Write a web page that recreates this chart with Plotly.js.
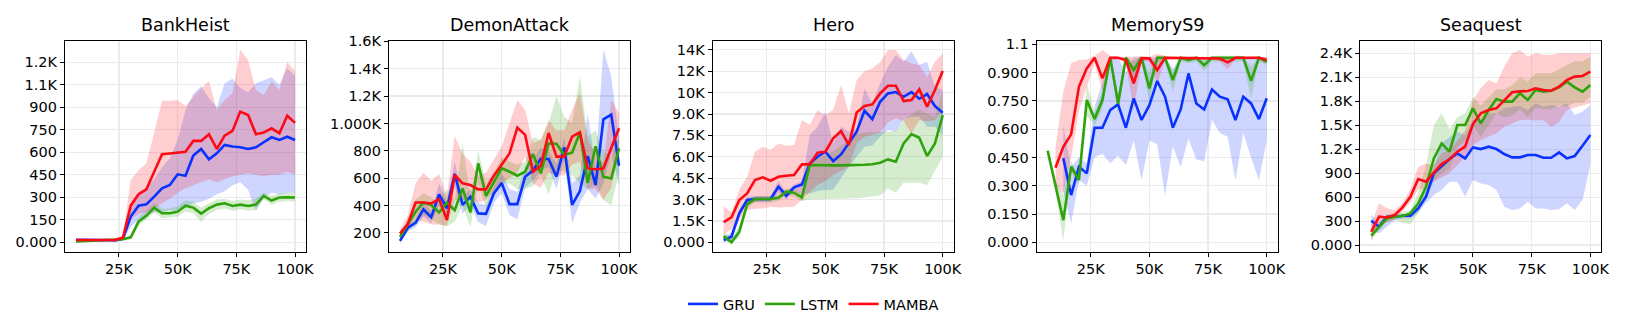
<!DOCTYPE html>
<html>
<head>
<meta charset="utf-8">
<script src="https://cdn.plot.ly/plotly-3.0.1.min.js"></script>
<style>
html,body{margin:0;padding:0;background:#ffffff;}
#chart{width:1627px;height:326px;}
</style>
</head>
<body>
<div id="chart"></div>
<script>
// ---------- data ----------
const steps = [6667,10000,13333,16667,20000,23333,26667,30000,33333,36667,40000,43333,46667,50000,53333,56667,60000,63333,66667,70000,73333,76667,80000,83333,86667,90000,93333,96667,100000];

const games = ["BankHeist","DemonAttack","Hero","MemoryS9","Seaquest"];
const methods = ["GRU","LSTM","MAMBA"];

// BankHeist
const bankheist_gru      = [16,14,14,14,15,12,22,171,244,253,304,360,382,453,444,578,622,553,593,649,638,633,622,633,667,700,682,704,682];
const bankheist_gru_hi   = [20,18,18,18,19,16,28,220,330,360,420,500,560,680,880,990,1040,960,900,1060,1090,1030,1000,1060,1080,1100,1050,1160,1110];
const bankheist_gru_lo   = [12,10,10,10,11,8,16,100,150,180,200,200,215,210,230,260,270,290,320,340,380,400,350,210,300,330,320,330,330];
const bankheist_lstm     = [5,8,10,12,14,15,20,33,138,176,231,193,193,204,244,231,191,227,251,260,242,251,242,251,309,278,298,300,298];
const bankheist_lstm_hi  = [10,12,14,16,18,20,28,45,165,210,260,225,225,240,280,270,230,260,285,290,275,285,280,290,330,310,325,330,330];
const bankheist_lstm_lo  = [0,4,6,8,10,10,14,22,110,150,200,160,165,170,205,195,135,190,215,225,210,220,210,215,285,250,270,275,270];
const bankheist_mamba    = [15,15,14,15,15,16,30,244,320,353,470,587,592,600,604,676,676,720,622,711,742,871,849,720,731,760,727,844,796];
const bankheist_mamba_hi = [18,18,18,18,18,20,45,415,480,527,731,944,944,949,909,971,1027,1076,882,949,993,1282,1216,1016,982,1071,1016,1204,1138];
const bankheist_mamba_lo = [12,12,12,12,12,12,18,150,190,200,220,260,290,330,360,380,400,420,400,420,440,450,460,450,440,450,450,470,450];

// DemonAttack
const demon_gru      = [141,237,273,371,315,481,378,632,405,464,342,339,488,564,410,410,610,657,742,740,610,825,405,505,762,549,1030,1065,691];
const demon_gru_hi   = [170,260,300,420,360,560,430,720,470,520,420,400,540,640,520,500,690,740,820,800,700,900,560,620,1075,680,1539,1343,900];
const demon_gru_lo   = [120,210,240,320,270,400,330,540,340,400,280,250,420,490,330,300,530,580,660,680,520,740,270,420,520,450,560,780,550];
const demon_lstm     = [170,264,354,422,403,349,420,366,525,349,708,469,574,672,647,618,647,776,635,855,852,771,786,933,566,833,610,598,818];
const demon_lstm_hi  = [190,300,440,490,460,420,520,440,860,450,800,560,640,750,720,700,720,900,880,1000,1200,1050,1000,1350,900,950,800,760,900];
const demon_lstm_lo  = [140,210,270,330,300,260,250,280,400,240,560,380,480,560,560,520,520,540,620,480,660,650,620,560,520,560,440,400,640];
const demon_mamba    = [195,264,422,422,415,447,293,623,562,549,518,518,618,696,781,970,916,647,691,930,757,757,904,935,671,665,670,820,965];
const demon_mamba_hi = [225,330,560,640,580,630,470,908,780,720,620,640,737,830,1001,1172,1099,855,880,1026,950,950,1099,1221,879,780,708,1172,1074];
const demon_mamba_lo = [170,220,300,280,260,260,250,440,440,450,420,440,500,560,600,640,760,560,530,640,620,620,700,720,520,520,440,530,800];

// Hero
const hero_gru      = [164,397,2033,2967,3037,3037,3037,3902,3271,3855,4065,5537,6005,6355,5701,6168,6986,7757,9229,8645,9860,10444,10537,10210,10537,10070,10397,9556,9089];
const hero_gru_hi   = [400,700,2300,3200,3250,3250,3250,4300,3500,4050,4300,7523,8107,9159,6939,8107,7757,8000,10794,9743,11145,12313,13130,12663,13400,12430,12663,10910,10677];
const hero_gru_lo   = [0,100,1700,2800,2850,2850,2850,3500,3000,3600,3400,3434,3600,3668,3700,4500,5303,6000,6705,6800,7400,7874,7757,8575,8808,8808,8107,8107,7500];
const hero_lstm     = [444,0,748,2663,3037,3037,3037,3131,3551,3481,3154,5420,5400,5400,5400,5400,5400,5420,5440,5480,5584,5818,5654,6939,7593,7336,6051,6939,8925];
const hero_lstm_hi  = [800,300,1100,2900,3250,3250,3250,3350,3800,3750,3400,5800,5900,6100,6400,6800,7200,7600,7700,7700,7700,7750,7800,8500,9000,9300,9000,8800,10500];
const hero_lstm_lo  = [100,0,300,2400,2800,2800,2800,2900,3300,3200,2900,3000,3000,3050,3050,3080,3084,3100,3150,3200,3300,3785,3481,4182,4182,4182,4019,5000,6005];
const hero_mamba    = [1425,1752,2967,3435,4370,4556,4322,4603,4673,4720,5467,5467,6285,6355,7290,7804,6822,9112,9556,9673,10444,10981,10981,9907,9977,10724,9509,10677,12009];
const hero_mamba_hi = [2546,2100,3700,4600,6355,6705,6500,6939,6775,6822,8575,8224,9276,8900,9300,11028,9042,11379,12000,12196,12650,13481,13481,12800,12550,12430,11600,12663,13247];
const hero_mamba_lo = [630,900,1565,2266,2350,2383,2500,2450,2450,2500,2967,3551,4019,4300,4720,5000,5300,6939,7406,7523,7700,8400,8700,8500,7640,8575,8500,8575,9276];

// MemoryS9
const mem_gru      = [null,null,0.446,0.251,0.401,0.366,0.608,0.608,0.702,0.732,0.608,0.764,0.649,0.728,0.856,0.773,0.608,0.705,0.896,0.737,0.705,0.811,0.773,0.759,0.649,0.773,0.737,0.654,0.764];
const mem_gru_hi   = [null,null,0.62,0.40,0.45,0.42,0.72,0.85,0.98,0.98,0.90,0.98,0.98,0.98,0.98,0.98,0.92,0.98,0.98,0.98,0.98,0.98,0.98,0.98,0.98,0.98,0.98,0.98,0.98];
const mem_gru_lo   = [null,null,0.27,0.10,0.33,0.30,0.45,0.47,0.42,0.46,0.41,0.54,0.33,0.54,0.52,0.25,0.51,0.40,0.55,0.44,0.43,0.65,0.58,0.56,0.33,0.58,0.45,0.33,0.54];
const mem_lstm     = [0.486,0.30,0.118,0.401,0.331,0.755,0.654,0.755,0.979,0.737,0.979,0.914,0.979,0.817,0.979,0.979,0.861,0.979,0.967,0.979,0.94,0.979,0.979,0.979,0.979,0.979,0.857,0.979,0.958];
const mem_lstm_hi  = [0.50,0.33,0.25,0.43,0.36,0.84,0.69,0.80,0.99,0.79,0.99,0.96,0.99,0.90,0.99,0.99,0.91,0.99,0.985,0.99,0.97,0.99,0.99,0.99,0.99,0.99,0.93,0.99,0.975];
const mem_lstm_lo  = [0.47,0.27,0.01,0.37,0.30,0.67,0.62,0.71,0.96,0.68,0.96,0.86,0.96,0.74,0.96,0.96,0.80,0.96,0.95,0.96,0.91,0.96,0.96,0.96,0.96,0.96,0.76,0.96,0.94];
const mem_mamba    = [null,0.396,0.507,0.573,0.826,0.923,0.979,0.870,0.979,0.979,0.967,0.843,0.976,0.976,0.914,0.979,0.979,0.979,0.979,0.979,0.979,0.979,0.975,0.955,0.979,0.979,0.979,0.979,0.967];
const mem_mamba_hi = [null,0.50,0.80,0.95,0.967,0.97,0.99,1.02,0.99,0.985,0.985,0.985,0.99,0.985,1.0,0.99,0.985,0.985,0.985,0.985,0.985,0.985,0.985,0.985,0.985,0.985,0.985,0.985,0.985];
const mem_mamba_lo = [null,0.30,0.26,0.45,0.70,0.83,0.95,0.80,0.96,0.97,0.95,0.70,0.96,0.96,0.84,0.97,0.97,0.97,0.97,0.97,0.97,0.97,0.96,0.92,0.97,0.97,0.97,0.97,0.95];

// Seaquest
const sea_gru      = [305,230,355,355,367,367,459,605,897,981,1077,1148,1085,1223,1202,1231,1202,1139,1098,1098,1127,1127,1093,1093,1160,1085,1114,1244,1377];
const sea_gru_hi   = [375,280,380,380,390,390,500,680,980,1273,1350,1419,1377,1565,1565,1649,1649,1711,1732,1740,1690,1774,1732,1753,1732,1774,1628,1670,1753];
const sea_gru_lo   = [188,146,230,313,330,330,400,530,626,689,793,793,605,814,772,751,689,480,438,459,543,459,459,438,447,522,438,563,1002];
const sea_lstm     = [117,230,334,355,363,396,520,730,1085,1273,1169,1502,1502,1711,1523,1690,1828,1795,1795,1899,1816,1941,1920,1932,1974,2045,1974,1920,2003];
const sea_lstm_hi  = [160,290,380,400,410,440,650,1000,1500,1649,1450,1600,1650,1850,1750,1850,1950,1950,2000,2100,2050,2150,2150,2150,2200,2250,2300,2300,2358];
const sea_lstm_lo  = [80,180,290,310,280,260,400,600,800,897,950,1231,1300,1500,1350,1500,1650,1600,1620,1700,1600,1720,1700,1700,1750,1732,1780,1780,1857];
const sea_mamba    = [167,355,346,376,472,605,826,793,906,1014,1073,1169,1231,1515,1649,1690,1711,1816,1912,1924,1928,1962,1941,1932,1982,2066,2108,2116,2170];
const sea_mamba_hi = [260,522,460,440,530,700,980,1022,1000,1150,1200,1300,1440,1816,1962,2066,2024,2233,2400,2442,2358,2400,2380,2379,2400,2400,2400,2400,2400];
const sea_mamba_lo = [40,250,280,320,420,540,700,700,800,850,900,1000,1100,1250,1315,1356,1400,1482,1520,1565,1570,1560,1565,1482,1540,1690,1720,1750,1774];

// ticks
const xTickVals = [25000,50000,75000,100000];
const xTickText = ["25K","50K","75K","100K"];
const bankheist_ticks = [0,150,300,450,600,750,900,1050,1200];
const bankheist_ticktext = ["0.000","150","300","450","600","750","900","1.1K","1.2K"];
const demon_ticks = [200,400,600,800,1000,1200,1400,1600];
const demon_ticktext = ["200","400","600","800","1.000K","1.2K","1.4K","1.6K"];
const hero_ticks = [0,1500,3000,4500,6000,7500,9000,10500,12000,13500];
const hero_ticktext = ["0.000","1.5K","3.0K","4.5K","6.0K","7.5K","9.0K","10K","12K","14K"];
const mem_ticks = [0,0.15,0.30,0.45,0.60,0.75,0.90,1.05];
const mem_ticktext = ["0.000","0.150","0.300","0.450","0.600","0.750","0.900","1.1"];
const sea_ticks = [0,300,600,900,1200,1500,1800,2100,2400];
const sea_ticktext = ["0.000","300","600","900","1.2K","1.5K","1.8K","2.1K","2.4K"];

// ---------- build ----------
const colors = {GRU:"#0a32ff", LSTM:"#2ea30c", MAMBA:"#ff0a14"};
const bandColors = {GRU:"rgba(10,50,255,0.2)", LSTM:"rgba(46,163,12,0.2)", MAMBA:"rgba(255,10,20,0.2)"};

const panels = [
  {name:games[0], series:{GRU:[bankheist_gru,bankheist_gru_lo,bankheist_gru_hi], LSTM:[bankheist_lstm,bankheist_lstm_lo,bankheist_lstm_hi], MAMBA:[bankheist_mamba,bankheist_mamba_lo,bankheist_mamba_hi]}, yr:[-63,1344], tv:bankheist_ticks, tt:bankheist_ticktext},
  {name:games[1], series:{GRU:[demon_gru,demon_gru_lo,demon_gru_hi], LSTM:[demon_lstm,demon_lstm_lo,demon_lstm_hi], MAMBA:[demon_mamba,demon_mamba_lo,demon_mamba_hi]}, yr:[62,1605], tv:demon_ticks, tt:demon_ticktext},
  {name:games[2], series:{GRU:[hero_gru,hero_gru_lo,hero_gru_hi], LSTM:[hero_lstm,hero_lstm_lo,hero_lstm_hi], MAMBA:[hero_mamba,hero_mamba_lo,hero_mamba_hi]}, yr:[-654,14140], tv:hero_ticks, tt:hero_ticktext},
  {name:games[3], series:{GRU:[mem_gru,mem_gru_lo,mem_gru_hi], LSTM:[mem_lstm,mem_lstm_lo,mem_lstm_hi], MAMBA:[mem_mamba,mem_mamba_lo,mem_mamba_hi]}, yr:[-0.0495,1.0697], tv:mem_ticks, tt:mem_ticktext},
  {name:games[4], series:{GRU:[sea_gru,sea_gru_lo,sea_gru_hi], LSTM:[sea_lstm,sea_lstm_lo,sea_lstm_hi], MAMBA:[sea_mamba,sea_mamba_lo,sea_mamba_hi]}, yr:[-83,2558], tv:sea_ticks, tt:sea_ticktext}
];

const W = 1627, H = 326;
const plotLeft = [65, 389, 712.7, 1036.7, 1360.3];
const plotWidth = 241;
const plotTop = 40.7, plotBottom = 251.7;

function bandPoly(x, lo, hi){
  const xs = [], ys = [];
  for (let i = 0; i < x.length; i++) if (hi[i] != null && lo[i] != null){ xs.push(x[i]); ys.push(hi[i]); }
  for (let i = x.length - 1; i >= 0; i--) if (hi[i] != null && lo[i] != null){ xs.push(x[i]); ys.push(lo[i]); }
  return {xs, ys};
}

const font = "DejaVu Sans, Verdana, sans-serif";
const traces = [];
const layout = {
  width: W, height: H,
  margin:{l:0,r:0,t:0,b:0},
  paper_bgcolor:"#ffffff", plot_bgcolor:"#ffffff",
  showlegend:true,
  legend:{orientation:"h", x:0.5, xanchor:"center", y:1-304/H, yanchor:"middle",
          font:{family:font, size:14.5, color:"#000"}, bgcolor:"rgba(0,0,0,0)", traceorder:"normal"},
  annotations:[], font:{family:font, color:"#000"}
};

panels.forEach((p, k) => {
  const ax = k === 0 ? "" : String(k+1);
  const xa = "x" + ax, ya = "y" + ax;
  // bands first
  methods.forEach(m => {
    const [v, lo, hi] = p.series[m];
    const poly = bandPoly(steps, lo, hi);
    traces.push({x:poly.xs, y:poly.ys, xaxis:xa, yaxis:ya, type:"scatter", mode:"lines",
      fill:"toself", fillcolor:bandColors[m], line:{width:0, color:"rgba(0,0,0,0)"},
      showlegend:false, hoverinfo:"skip"});
  });
  methods.forEach(m => {
    const [v] = p.series[m];
    traces.push({x:steps, y:v, xaxis:xa, yaxis:ya, type:"scatter", mode:"lines",
      name:m, legendgroup:m, showlegend:k===0, connectgaps:false,
      line:{color:colors[m], width:2.6}});
  });
  const x0 = plotLeft[k]/W, x1 = (plotLeft[k]+plotWidth)/W;
  const common = {showline:true, mirror:true, linecolor:"#000", linewidth:1.1,
    ticks:"outside", ticklen:4, tickwidth:1, tickcolor:"#000",
    showgrid:true, gridcolor:"#ebebeb", gridwidth:1.2, zeroline:false,
    tickfont:{family:font, size:14.5, color:"#000"}};
  layout["xaxis"+ax] = Object.assign({}, common, {domain:[x0,x1], anchor:ya,
    range:[2000,104667], tickmode:"array", tickvals:xTickVals, ticktext:xTickText});
  layout["yaxis"+ax] = Object.assign({}, common, {domain:[1-plotBottom/H, 1-plotTop/H], anchor:xa,
    range:p.yr, tickmode:"array", tickvals:p.tv, ticktext:p.tt});
  layout.annotations.push({text:p.name, xref:"paper", yref:"paper", x:(x0+x1)/2, y:1-25/H,
    xanchor:"center", yanchor:"middle", showarrow:false, font:{family:font, size:17.5, color:"#000"}});
});

Plotly.newPlot("chart", traces, layout, {staticPlot:true, displayModeBar:false});
</script>
</body>
</html>
